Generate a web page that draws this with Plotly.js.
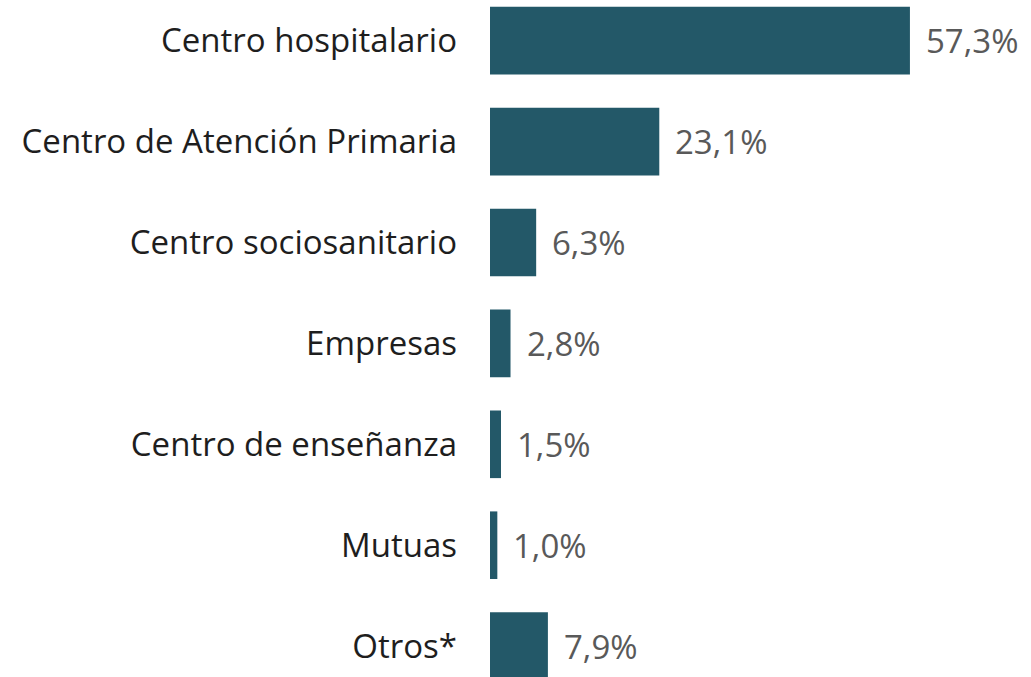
<!DOCTYPE html>
<html>
<head>
<meta charset="utf-8">
<script src="https://cdn.plot.ly/plotly-3.0.1.min.js"></script>
<style>html,body{margin:0;padding:0;background:#fff;}#chart{width:1031px;height:677px;}</style>
</head>
<body>
<div id="chart"></div>
<script>
const categories = ["Centro hospitalario", "Centro de Atención Primaria", "Centro sociosanitario", "Empresas", "Centro de enseñanza", "Mutuas", "Otros*"];
const values = [57.3, 23.1, 6.3, 2.8, 1.5, 1.0, 7.9];

const fontFam = "Open Sans, Noto Sans, sans-serif";
const fmt = v => v.toFixed(1).replace('.', ',') + '%';

const trace = {
  type: 'bar',
  orientation: 'h',
  x: values,
  y: categories,
  width: 0.67,
  marker: {color: '#235868', line: {width: 0}},
  hoverinfo: 'skip'
};

const annotations = values.map((v, i) => ({
  x: v, y: categories[i], xref: 'x', yref: 'y',
  text: fmt(v), showarrow: false, xanchor: 'left', xshift: 14,
  font: {family: fontFam, size: 33, color: '#595959'}
}));

const layout = {
  width: 1031, height: 677,
  margin: {l: 490, r: 28, t: 0, b: 0, pad: 0},
  paper_bgcolor: '#fff', plot_bgcolor: '#fff',
  showlegend: false,
  xaxis: {range: [0, 70], visible: false, fixedrange: true},
  yaxis: {
    type: 'category',
    range: [6.306, -0.403],
    showgrid: false, zeroline: false, showline: false,
    ticks: '', ticklabelstandoff: 32,
    tickfont: {family: fontFam, size: 33, color: '#1e1e1e'}
  },
  annotations: annotations
};

Plotly.newPlot('chart', [trace], layout, {displayModeBar: false, staticPlot: true});
</script>
</body>
</html>
